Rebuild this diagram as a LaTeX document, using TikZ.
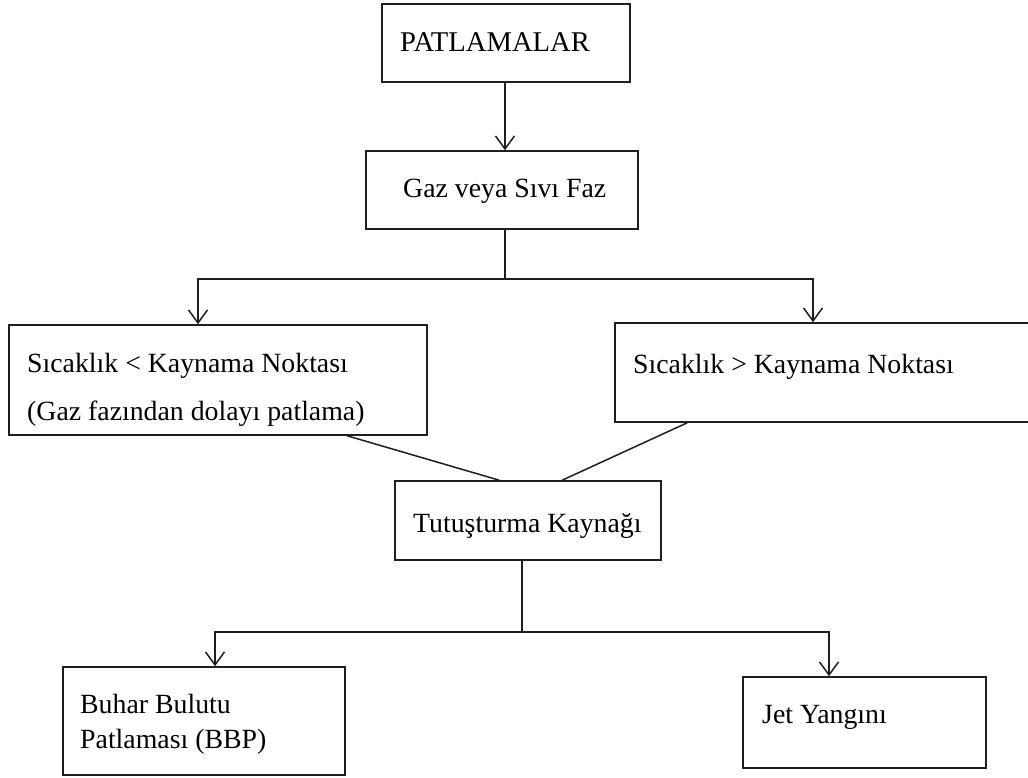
\documentclass[tikz,border=0pt]{standalone}
\usepackage{fontspec}
\setmainfont{Liberation Serif}
\usetikzlibrary{arrows.meta}
\begin{document}
\begin{tikzpicture}[x=1pt,y=-1pt,
  box/.style={draw=black!88,line width=1.6pt,rectangle,inner sep=0pt},
  txt/.style={anchor=base west,inner sep=0pt,font=\fontsize{27.8}{33}\selectfont},
  conn/.style={draw=black!88,line width=1.5pt},
  arr/.style={conn,-{Straight Barb[length=13pt,width=19pt,line width=1.5pt]}}]
\clip (0,0) rectangle (1028,778);
\fill[white] (0,0) rectangle (1028,778);

% boxes
\node[box,minimum width=248pt,minimum height=78pt] (B1) at (506,43) {};
\node[box,minimum width=272pt,minimum height=78pt] (B2) at (502,190) {};
\node[box,minimum width=418pt,minimum height=110pt] (L) at (218,380) {};
\node[box,minimum width=420pt,minimum height=99pt] (R) at (825,372.5) {};
\node[box,minimum width=266pt,minimum height=79pt] (T) at (528,520.5) {};
\node[box,minimum width=282pt,minimum height=108pt] (BB) at (204,721) {};
\node[box,minimum width=243pt,minimum height=91pt] (J) at (864.5,722.5) {};

% texts
\node[txt,font=\fontsize{28.6}{34}\selectfont] (t1) at (400,52) {PATLAMALAR};
\node[txt] (t2) at (403,198) {Gaz veya Sıvı Faz};
\node[txt] (t3a) at (27,372) {Sıcaklık < Kaynama Noktası};
\node[txt] (t3b) at (27,420) {(Gaz fazından dolayı patlama)};
\node[txt] (t4) at (633,373) {Sıcaklık > Kaynama Noktası};
\node[txt] (t5) at (413,532) {Tutuşturma Kaynağı};
\node[txt] (t6a) at (80,713) {Buhar Bulutu};
\node[txt] (t6b) at (80,748) {Patlaması (BBP)};
\node[txt] (t7) at (762,723) {Jet Yangını};

% junction points
\coordinate (s1) at (505,279);
\coordinate (jl) at (198,279);
\coordinate (jr) at (813,279);
\coordinate (s2) at (522,632);
\coordinate (kl) at (215,632);
\coordinate (kr) at (829,632);

% connectors
\draw[arr] (s1 |- B1.south) -- (s1 |- B2.north);
\draw[conn] (s1 |- B2.south) -- (s1);
\draw[arr] (s1) -- (jl) -- (jl |- L.north);
\draw[arr] (s1) -- (jr) -- (jr |- R.north);
\draw[conn] ([xshift=339pt]L.south west) -- ([xshift=105pt]T.north west);
\draw[conn] ([xshift=73pt]R.south west) -- ([xshift=168pt]T.north west);
\draw[conn] (s2 |- T.south) -- (s2);
\draw[arr] (s2) -- (kl) -- (kl |- BB.north);
\draw[arr] (s2) -- (kr) -- (kr |- J.north);
\end{tikzpicture}
\end{document}
